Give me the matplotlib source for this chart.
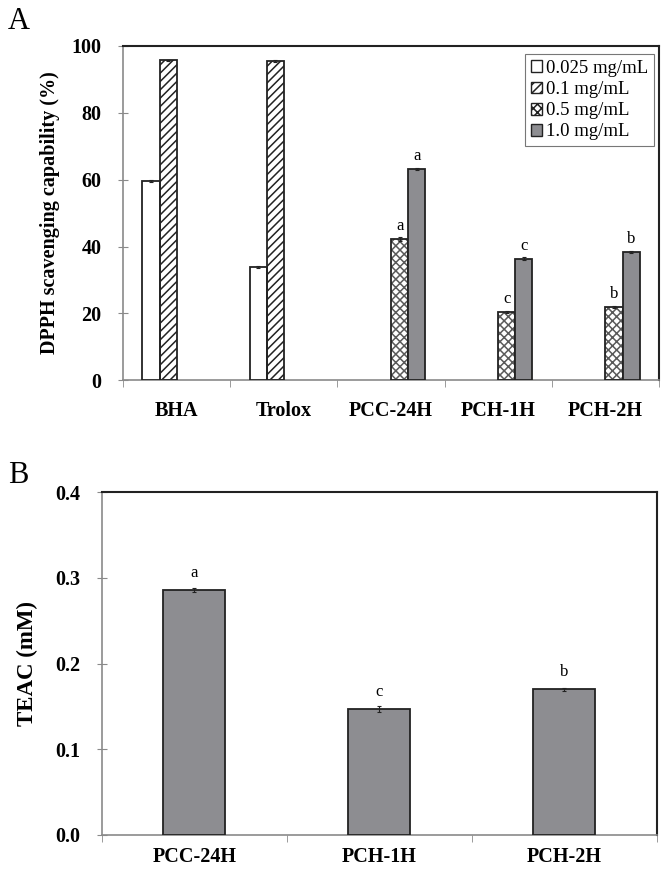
import matplotlib.pyplot as plt
from matplotlib.patches import Patch
import numpy as np

plt.rcParams['font.family'] = ['Liberation Serif', 'DejaVu Serif']
plt.rcParams['hatch.linewidth'] = 1.1

# panel A data
samples_a = ["BHA", "Trolox", "PCC-24H", "PCH-1H", "PCH-2H"]
conc_labels = ["0.025 mg/mL", "0.1 mg/mL", "0.5 mg/mL", "1.0 mg/mL"]
dpph = {
    "0.025 mg/mL": [59.7, 33.8, np.nan, np.nan, np.nan],
    "0.1 mg/mL": [95.7, 95.5, np.nan, np.nan, np.nan],
    "0.5 mg/mL": [np.nan, np.nan, 42.2, 20.4, 21.9],
    "1.0 mg/mL": [np.nan, np.nan, 63.3, 36.4, 38.4],
}
dpph_err = {
    "0.025 mg/mL": [0.3, 0.3, 0, 0, 0],
    "0.1 mg/mL": [0.2, 0.2, 0, 0, 0],
    "0.5 mg/mL": [0, 0, 0.5, 0.4, 0.4],
    "1.0 mg/mL": [0, 0, 0.3, 0.4, 0.4],
}
dpph_letters = {
    "0.5 mg/mL": ["", "", "a", "c", "b"],
    "1.0 mg/mL": ["", "", "a", "c", "b"],
}

# panel B data
samples_b = ["PCC-24H", "PCH-1H", "PCH-2H"]
teac = [0.286, 0.147, 0.170]
teac_err = [0.002, 0.003, 0.002]
teac_letters = ["a", "c", "b"]

gray = "#8d8d91"
axis_gray = "#8a8a8a"
dark = "#222222"

fig = plt.figure(figsize=(6.69, 8.76), dpi=100)

# ---------- panel A ----------
ax = fig.add_axes([0.184, 0.566, 0.801, 0.3815])
w = 0.16
x = np.arange(len(samples_a))
styles = [
    dict(fc="white", hatch=None, hc=None),
    dict(fc="white", hatch="////", hc=dark),
    dict(fc="white", hatch="xxxx", hc="#5a5a5a"),
    dict(fc=gray, hatch=None, hc=None),
]
handles = []
for i, lab in enumerate(conc_labels):
    vals = np.array(dpph[lab])
    pos = x + (i - 1.5) * w
    st = styles[i]
    if st["hatch"]:
        ax.bar(pos, vals, w, color=st["fc"], edgecolor=st["hc"], hatch=st["hatch"],
               linewidth=0, zorder=2)
        ax.bar(pos, vals, w, color="none", edgecolor=dark, linewidth=1.3, zorder=3)
        handles.append(Patch(facecolor=st["fc"], edgecolor=dark, hatch=st["hatch"],
                             linewidth=1.0, label=lab))
    else:
        ax.bar(pos, vals, w, color=st["fc"], edgecolor=dark, linewidth=1.3, zorder=3)
        handles.append(Patch(facecolor=st["fc"], edgecolor=dark, linewidth=1.0, label=lab))
    err = np.array(dpph_err[lab])
    ax.errorbar(pos, vals, yerr=err, fmt="none", ecolor=dark, elinewidth=0.8,
                capsize=1.5, capthick=0.8, zorder=4)
    if lab in dpph_letters:
        for p, v, t in zip(pos, vals, dpph_letters[lab]):
            if t:
                ax.text(p, v + 1.5, t, ha="center", va="bottom", fontsize=12)

ax.set_xlim(-0.5, len(samples_a) - 0.5)
ax.set_ylim(0, 100)
ax.set_yticks(np.arange(0, 101, 20))
ax.set_yticklabels([str(v) for v in range(0, 101, 20)], fontsize=14.5, fontweight="bold")
ax.set_xticks(x)
ax.set_xticklabels(samples_a, fontsize=14.5, fontweight="bold")
ax.set_xticks(np.arange(-0.5, len(samples_a), 0.5), minor=True)
ax.tick_params(axis="x", which="major", length=0, pad=15)
ax.tick_params(axis="x", which="minor", length=5, color=axis_gray, direction="out")
ax.tick_params(axis="y", length=7, color=axis_gray, direction="inout", pad=12)
ax.set_ylabel("DPPH scavenging capability (%)", fontsize=14.5, fontweight="bold", labelpad=8)
for s in ["left", "bottom"]:
    ax.spines[s].set_color(axis_gray)
    ax.spines[s].set_linewidth(1.2)
for s in ["top", "right"]:
    ax.spines[s].set_color(dark)
    ax.spines[s].set_linewidth(1.5)
leg = ax.legend(handles=handles, loc="upper right", bbox_to_anchor=(0.99, 0.975),
                fontsize=13.5, handlelength=0.6, handleheight=0.6, handletextpad=0.2,
                labelspacing=0.22, borderpad=0.3, fancybox=False, framealpha=1,
                borderaxespad=0)
leg.get_frame().set_edgecolor("#777777")
leg.get_frame().set_linewidth(0.8)
fig.text(0.012, 0.975, "A", fontsize=22, ha="left", va="center")

# ---------- panel B ----------
bx = fig.add_axes([0.152, 0.047, 0.830, 0.391])
xb = np.arange(len(samples_b))
bx.bar(xb, teac, 0.335, color=gray, edgecolor=dark, linewidth=1.3, zorder=3)
bx.errorbar(xb, teac, yerr=teac_err, fmt="none", ecolor=dark, elinewidth=0.8,
            capsize=1.5, capthick=0.8, zorder=4)
for p, v, t in zip(xb, teac, teac_letters):
    bx.text(p, v + 0.011, t, ha="center", va="bottom", fontsize=12)
bx.set_xlim(-0.5, len(samples_b) - 0.5)
bx.set_ylim(0, 0.4)
bx.set_yticks(np.arange(0, 0.41, 0.1))
bx.set_yticklabels(["%.1f" % v for v in np.arange(0, 0.41, 0.1)], fontsize=14.5, fontweight="bold")
bx.set_xticks(xb)
bx.set_xticklabels(samples_b, fontsize=14.5, fontweight="bold")
bx.set_xticks(np.arange(-0.5, len(samples_b), 0.5), minor=True)
bx.tick_params(axis="x", which="major", length=0, pad=9)
bx.tick_params(axis="x", which="minor", length=5, color=axis_gray, direction="out")
bx.tick_params(axis="y", length=7, color=axis_gray, direction="inout", pad=12)
bx.set_ylabel("TEAC (mM)", fontsize=16.5, fontweight="bold", labelpad=12)
for s in ["left", "bottom"]:
    bx.spines[s].set_color(axis_gray)
    bx.spines[s].set_linewidth(1.2)
for s in ["top", "right"]:
    bx.spines[s].set_color(dark)
    bx.spines[s].set_linewidth(1.5)
fig.text(0.012, 0.457, "B", fontsize=22, ha="left", va="center")

fig.savefig("out.png", dpi=100)
